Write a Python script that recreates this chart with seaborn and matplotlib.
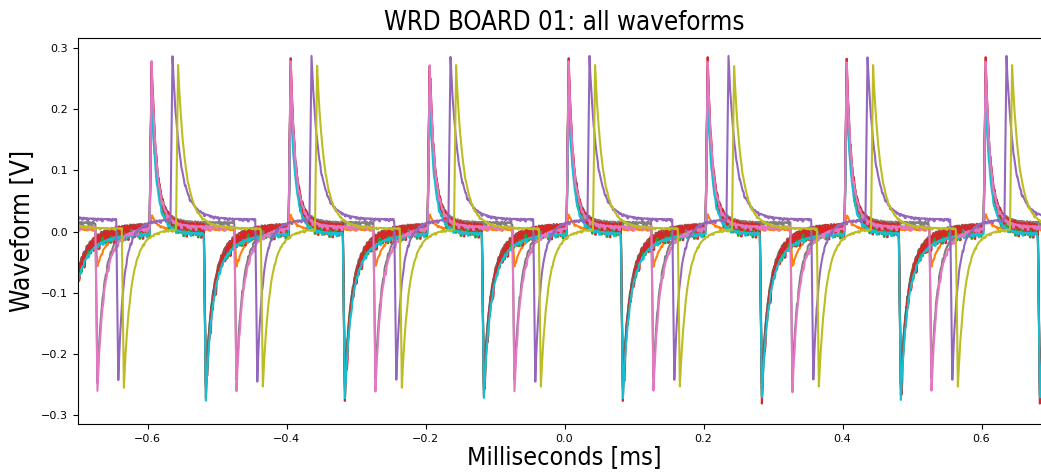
import numpy as np
import pandas as pd
import seaborn as sns
import matplotlib.pyplot as plt

# start of each pulser cycle [ms]
cycle_starts = [-0.8, -0.6, -0.4, -0.2, 0.0, 0.2, 0.4, 0.6]

# one entry per channel
channels = ['ch0', 'ch1', 'ch2', 'ch3', 'ch4', 'ch5', 'ch6', 'ch7', 'ch8', 'ch9']
colors = ['#1f77b4', '#ff7f0e', '#2ca02c', '#d62728', '#9467bd',
          '#8c564b', '#e377c2', '#7f7f7f', '#bcbd22', '#17becf']
base_level = [0.008, 0.004, 0.005, 0.011, 0.020, 0.013, 0.008, 0.015, 0.005, -0.003]
pos_delay = [0.003, 0.003, 0.003, 0.003, 0.033, 0.003, 0.003, 0.003, 0.041, 0.003]
pos_amp = [0.240, 0.025, 0.250, 0.272, 0.267, 0.258, 0.272, 0.250, 0.268, 0.225]
pos_tau = [0.006, 0.007, 0.006, 0.006, 0.009, 0.006, 0.006, 0.006, 0.009, 0.006]
pos_slow = [0.014, 0.012, 0.014, 0.014, 0.020, 0.014, 0.014, 0.014, 0.020, 0.014]
neg_delay = [0.081, 0.125, 0.081, 0.081, 0.155, 0.081, 0.125, 0.125, 0.163, 0.081]
neg_amp = [-0.255, -0.060, -0.260, -0.280, -0.262, -0.262, -0.268, -0.255, -0.258, -0.268]
neg_tau = [0.008, 0.012, 0.008, 0.008, 0.006, 0.008, 0.007, 0.007, 0.008, 0.008]
neg_slow = [0.025, 0.022, 0.025, 0.025, 0.015, 0.025, 0.020, 0.020, 0.018, 0.025]
noise_scale = [0.25, 0.1, 0.6, 0.85, 0.15, 0.35, 0.25, 0.3, 0.1, 0.2]
ripple = [0.0, -0.004, 0.002, -0.014, 0.001, -0.006, -0.020, 0.003,
          -0.002, -0.009, 0.002, -0.025, -0.003, 0.001]
draw_order = ['ch1', 'ch0', 'ch2', 'ch5', 'ch7', 'ch3', 'ch9', 'ch6', 'ch4', 'ch8']

step = 0.0005
t = np.arange(-0.7, 0.7001, step)
rise = 0.003


def pulse(t, start, amp, tau, slow, w):
    s = t - start
    out = np.zeros_like(t)
    up = (s >= 0) & (s < rise)
    out[up] = s[up] / rise
    dn = s >= rise
    sd = s[dn] - rise
    out[dn] = w * np.exp(-sd / tau) + (1 - w) * np.exp(-sd / slow)
    return amp * out


frames = []
for i, ch in enumerate(channels):
    v = np.full_like(t, base_level[i])
    for c in cycle_starts:
        v += pulse(t, c + pos_delay[i], pos_amp[i], pos_tau[i], pos_slow[i], 0.7)
        v += pulse(t, c + neg_delay[i], neg_amp[i], neg_tau[i], neg_slow[i], 0.6)
    # each ripple value is held for 3 samples
    rip = np.resize(np.repeat(np.roll(ripple, i * 3), 3), len(t))
    v += noise_scale[i] * rip
    frames.append(pd.DataFrame({'time': t, 'value': v, 'channel': ch}))
df = pd.concat(frames, ignore_index=True)

fig = plt.figure(figsize=(10.41, 4.73), dpi=100)
ax = fig.add_axes([78 / 1041, 49 / 473, 973 / 1041, 386 / 473])

sns.lineplot(data=df, x='time', y='value', hue='channel', hue_order=draw_order,
             palette=dict(zip(channels, colors)), estimator=None, sort=False,
             legend=False, linewidth=1.5, ax=ax)

ax.set_xlim(-0.7, 0.7)
ax.set_ylim(-0.314, 0.316)
ax.set_xticks([-0.6, -0.4, -0.2, 0.0, 0.2, 0.4, 0.6])
ax.set_yticks([-0.3, -0.2, -0.1, 0.0, 0.1, 0.2, 0.3])
ax.tick_params(labelsize=8)
ax.set_title('WRD BOARD 01: all waveforms', fontsize=18.5, fontstretch='condensed')
ax.set_xlabel('Milliseconds [ms]', fontsize=18, fontstretch='condensed', labelpad=1)
ax.set_ylabel('Waveform [V]', fontsize=19, fontstretch='condensed')

fig.savefig('out.png', dpi=100)
